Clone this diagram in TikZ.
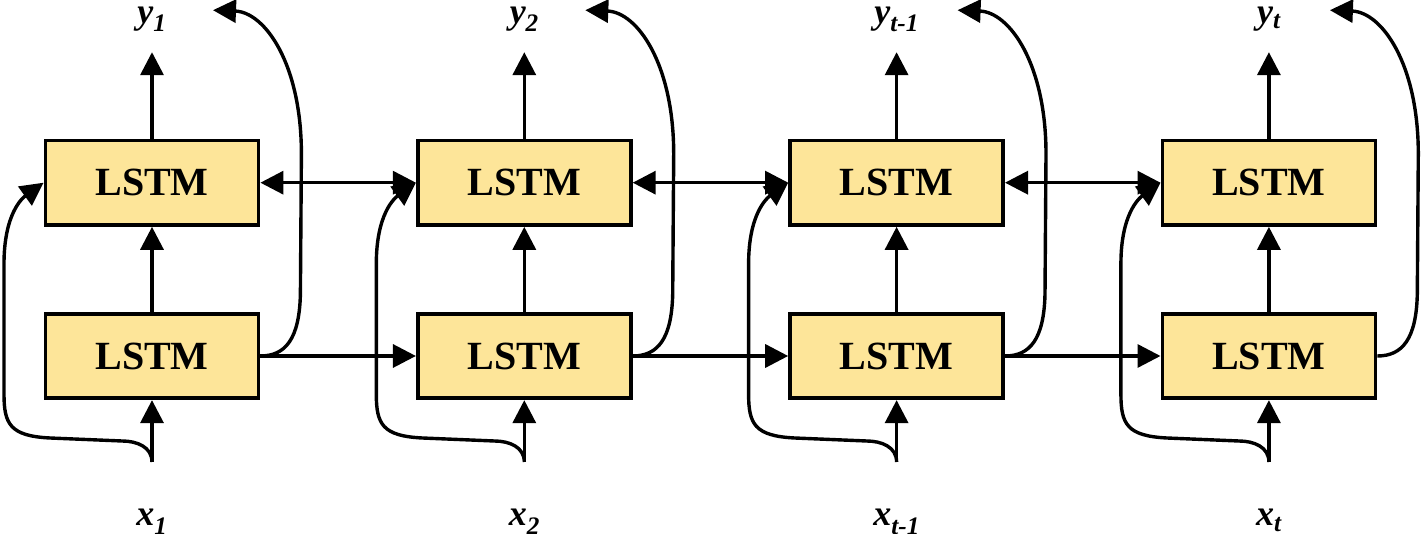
\documentclass[tikz,border=0pt]{standalone}
\usepackage{fontspec}
\setmainfont{Liberation Serif}
\usetikzlibrary{arrows.meta,positioning,calc}
\definecolor{lstmfill}{RGB}{253,229,153}
\tikzset{
    line/.style  = {-{Triangle[length=23pt,width=23pt]}, line width=3.4pt},
    dline/.style = {{Triangle[length=23pt,width=23pt]}-{Triangle[length=23pt,width=23pt]}, line width=3.4pt},
    block/.style = {draw=black, line width=3.8pt, fill=lstmfill,
            minimum width=213pt, minimum height=84.5pt,
            font=\fontsize{40}{40}\selectfont\bfseries},
    lbl/.style   = {font=\fontsize{36}{36}\selectfont\bfseries\itshape,
            anchor=base, inner sep=0pt},
}
\begin{document}
\begin{tikzpicture}[x=1pt, y=1pt, node distance=85pt and 155.5pt]
    \useasboundingbox (0,0) rectangle (1421,534);
    % Nodes
    \node[block] (b1) at (152,178) {LSTM};
    \node[block, right=of b1] (b2) {LSTM};
    \node[block, right=of b2] (b3) {LSTM};
    \node[block, right=of b3] (b4) {LSTM};
    \node[block, above=of b1] (t1) {LSTM};
    \node[block, above=of b2] (t2) {LSTM};
    \node[block, above=of b3] (t3) {LSTM};
    \node[block, above=of b4] (t4) {LSTM};
    \node[lbl] (y1) at ($(t1)+(0,159.5)$) {y\textsubscript{1}};
    \node[lbl] (y2) at ($(t2)+(0,159.5)$) {y\textsubscript{2}};
    \node[lbl] (y3) at ($(t3)+(0,159.5)$) {y\textsubscript{t-1}};
    \node[lbl] (y4) at ($(t4)+(0,159.5)$) {y\textsubscript{t}};
    \node[lbl] (x1) at ($(b1)+(0,-170)$) {x\textsubscript{1}};
    \node[lbl] (x2) at ($(b2)+(0,-170)$) {x\textsubscript{2}};
    \node[lbl] (x3) at ($(b3)+(0,-170)$) {x\textsubscript{t-1}};
    \node[lbl] (x4) at ($(b4)+(0,-170)$) {x\textsubscript{t}};
    % Arrows
    \foreach \i in {1,...,4}{
        \coordinate (in\i) at ($(b\i)+(0,-106)$);
        \coordinate (out\i) at ($(t\i)+(0,130.5)$);
        \coordinate (back\i) at ($(t\i)+(61,172.5)$);
        \draw[line] (in\i) -- (b\i);
        \draw[line] (b\i) -- (t\i);
        \draw[line] (t\i) -- (out\i);
        \draw[line] (in\i) .. controls +(0,15) and +(15,0) .. ++(-30,21) -- ++(-72,3)
            .. controls +(-40,2) and +(0,-30) .. ++(-46,44) -- ++(0,130)
            .. controls +(0,50) and +(-21.5,-15.5) .. (t\i.west);
        \draw[line] (b\i.east) .. controls +(25,0) and +(-1,-45) .. ++(40,62) -- ++(1,140)
            .. controls +(0,90) and +(52,-2) .. (back\i);
    }
    \draw[line] (b1) -- (b2);
    \draw[line] (b2) -- (b3);
    \draw[line] (b3) -- (b4);
    \draw[dline] (t1) -- (t2);
    \draw[dline] (t2) -- (t3);
    \draw[dline] (t3) -- (t4);
\end{tikzpicture}
\end{document}
